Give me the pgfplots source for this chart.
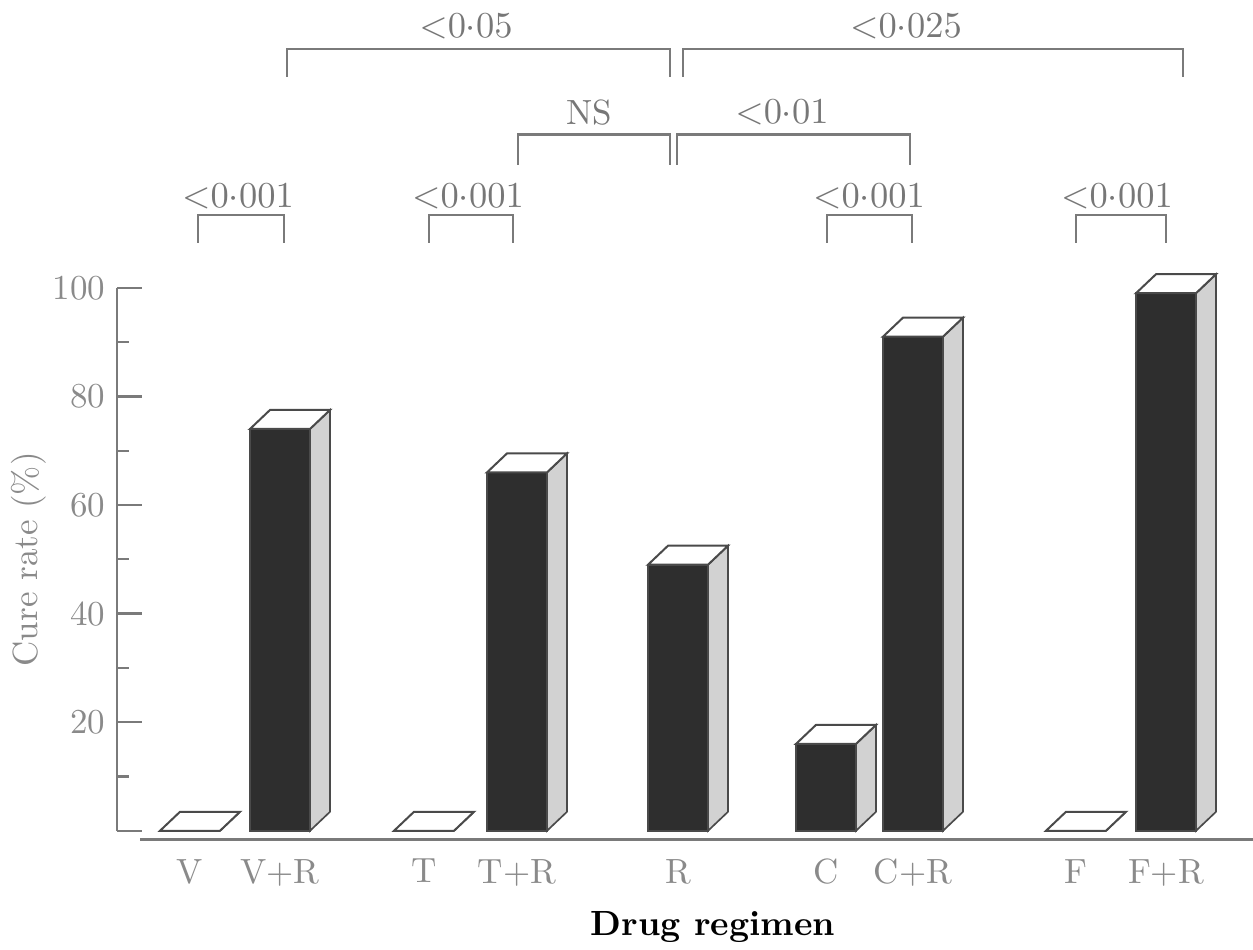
\documentclass[border=0pt]{standalone}
\usepackage{pgfplots}
\usepackage{pgfplotstable}
\pgfplotsset{compat=1.18}
\definecolor{axgray}{HTML}{7A7A7A}
\definecolor{txtgray}{HTML}{8A8A8A}
\definecolor{lblgray}{HTML}{777777}
\definecolor{barfront}{HTML}{2E2E2E}
\definecolor{barside}{HTML}{D2D2D2}
\definecolor{edge}{HTML}{4A4A4A}
\def\yu{1.629}

\pgfplotstableread{
x y
190 0
280 74
424 0
517 66
678 49
826 16
913 91
1076 0
1166 99
}\bars

\newcommand\brk[4]{%
  \draw[axgray, line width=0.8pt] (axis cs:#1,#4) -- (axis cs:#1,#3) -- (axis cs:#2,#3) -- (axis cs:#2,#4);}
\newcommand\lbl[3]{%
  \node[text=lblgray, font=\fontsize{10.5}{12}\selectfont, anchor=center] at (axis cs:#1,#2) {#3};}

\begin{document}
\begin{tikzpicture}
\begin{axis}[
  x=0.3pt, y=\yu pt,
  xmin=117, xmax=1253, ymin=0, ymax=100,
  axis y line=left, axis x line*=bottom,
  x axis line style={draw=none},
  y axis line style={-, draw=axgray, line width=0.8pt},
  clip=false,
  ytick={0,20,...,100}, yticklabels={,20,40,60,80,100},
  minor ytick={10,30,...,90},
  tick align=inside,
  major tick length=7.5pt, minor tick length=3.6pt,
  tick style={axgray, line width=0.7pt},
  xtick={190,280,424,517,678,826,913,1076,1166},
  xticklabels={V,V+R,T,T+R,R,C,C+R,F,F+R},
  xtick style={draw=none},
  xticklabel style={yshift=-5pt},
  tick label style={font=\fontsize{10.5}{12}\selectfont, text=txtgray},
  ylabel={Cure rate (\%)},
  ylabel style={at={(axis description cs:-0.078,0.5)}, anchor=center, font=\fontsize{10.5}{12}\selectfont, text=txtgray},
  xlabel={Drug regimen},
  xlabel style={at={(axis description cs:0.5246,-0.177)}, anchor=center, font=\bfseries\fontsize{10.5}{12}\selectfont, text=black},
]
% front faces
\addplot[ybar, bar width=18pt, bar shift=0pt, fill=barfront, draw=edge, line width=0.5pt] table[x=x,y=y]{\bars};
% top and side faces
\addplot[scatter, only marks, mark=*, mark size=0.01pt,
  mark options={draw opacity=0, fill opacity=0},
  visualization depends on={rawy \as \rawy},
  scatter/@pre marker code/.code={%
    \pgfmathsetlengthmacro\barH{\rawy*\yu pt}%
    \filldraw[fill=barside, draw=edge, line width=0.5pt, draw opacity=1, fill opacity=1] (9pt,0pt) -- (15pt,5.7pt) -- (15pt,5.7pt-\barH) -- (9pt,-\barH) -- cycle;
    \filldraw[fill=white, draw=edge, line width=0.6pt, draw opacity=1, fill opacity=1] (-9pt,0pt) -- (9pt,0pt) -- (15pt,5.7pt) -- (-3pt,5.7pt) -- cycle;
  },
  scatter/@post marker code/.code={}
] table[x=x,y=y]{\bars};

% baseline
\draw[axgray, line width=0.8pt] (axis cs:140,-1.66) -- (axis cs:1253,-1.66);

% significance brackets
\brk{198}{284}{113.4}{108.3}\lbl{238}{116.8}{${<}0{\cdot}001$}
\brk{429}{513}{113.4}{108.3}\lbl{468}{116.8}{${<}0{\cdot}001$}
\brk{827}{912}{113.4}{108.3}\lbl{869}{116.8}{${<}0{\cdot}001$}
\brk{1076}{1166}{113.4}{108.3}\lbl{1117}{116.8}{${<}0{\cdot}001$}
\brk{518}{670}{128.2}{122.7}\lbl{589}{132.2}{NS}
\brk{677}{910}{128.2}{122.7}\lbl{782}{132.2}{${<}0{\cdot}01$}
\brk{287}{670}{144.0}{138.9}\lbl{466}{148.1}{${<}0{\cdot}05$}
\brk{683}{1183}{144.0}{138.9}\lbl{906}{148.1}{${<}0{\cdot}025$}

\coordinate (bbll) at (axis cs:0,-21.9);
\coordinate (bbur) at (axis cs:1253,153.0);
\end{axis}
\pgfresetboundingbox
\path (bbll) rectangle (bbur);
\end{tikzpicture}
\end{document}
